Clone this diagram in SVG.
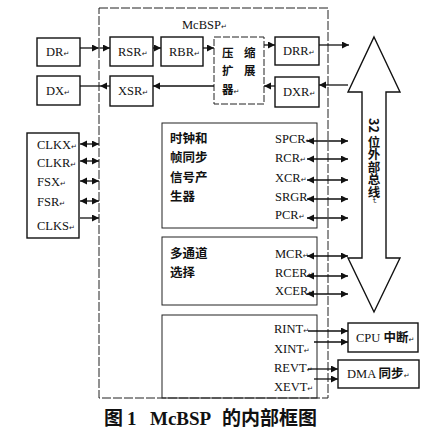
<svg xmlns="http://www.w3.org/2000/svg" width="446" height="434" viewBox="0 0 446 434">
<style>
.bg{fill:#fff}
.reg{fill:#fff;stroke:#111;stroke-width:1.4}
.blk{fill:none;stroke:#222;stroke-width:1}
.main{fill:none;stroke:#222;stroke-width:1;stroke-dasharray:9 2}
.cmp{fill:#fff;stroke:#222;stroke-width:1;stroke-dasharray:7 2}
.lbl{font-family:"Liberation Serif",serif;font-size:12.5px;fill:#111}
.cn{font-family:"Noto Sans CJK SC",sans-serif;font-size:12.5px;font-weight:bold;fill:#111}
.cs{font-size:11.5px}
.ret{font-family:"DejaVu Sans",sans-serif;font-size:7px;font-weight:normal}
.c{fill:none;stroke:#111;stroke-width:1.3}
.ah1{marker-end:url(#ah)}
.ah2{marker-start:url(#ah);marker-end:url(#ah)}
</style>
<defs>
<marker id="ah" markerUnits="userSpaceOnUse" markerWidth="8" markerHeight="8" refX="7" refY="3.5" orient="auto-start-reverse">
<path d="M0,0 L7,3.5 L0,7 Z" fill="#111"/>
</marker>
</defs>
<rect class="bg" width="446" height="434"/>

<g id="mcbsp">
<rect class="main" x="99" y="8" width="229" height="390"/>
<text class="lbl" x="182" y="29">McBSP<tspan class="ret">↵</tspan></text>
</g>

<g id="DR"><rect class="reg" x="37" y="38" width="43" height="28"/><text class="lbl" x="46" y="56">DR<tspan class="ret">↵</tspan></text></g>
<g id="DX"><rect class="reg" x="37" y="76" width="43" height="29"/><text class="lbl" x="46" y="95">DX<tspan class="ret">↵</tspan></text></g>
<g id="RSR"><rect class="reg" x="110" y="37" width="43" height="29"/><text class="lbl" x="118" y="56">RSR<tspan class="ret">↵</tspan></text></g>
<g id="RBR"><rect class="reg" x="161" y="37" width="42" height="29"/><text class="lbl" x="169" y="56">RBR<tspan class="ret">↵</tspan></text></g>
<g id="XSR"><rect class="reg" x="110" y="76" width="43" height="30"/><text class="lbl" x="118" y="95">XSR<tspan class="ret">↵</tspan></text></g>
<g id="compander">
<rect class="cmp" x="214" y="37" width="50" height="67"/>
<text class="cn cs" x="222" y="57">压</text><text class="cn cs" x="244" y="57">缩</text>
<text class="cn cs" x="222" y="75">扩</text><text class="cn cs" x="244" y="75">展</text>
<text class="cn cs" x="222" y="94">器<tspan class="ret">↵</tspan></text>
</g>
<g id="DRR"><rect class="reg" x="275" y="37" width="44" height="28"/><text class="lbl" x="283" y="55">DRR<tspan class="ret">↵</tspan></text></g>
<g id="DXR"><rect class="reg" x="275" y="77" width="44" height="30"/><text class="lbl" x="283" y="96">DXR<tspan class="ret">↵</tspan></text></g>

<g id="pins">
<rect class="reg" x="27" y="133" width="52" height="105"/>
<text class="lbl" x="37" y="149">CLKX<tspan class="ret">↵</tspan></text>
<text class="lbl" x="37" y="167">CLKR<tspan class="ret">↵</tspan></text>
<text class="lbl" x="37" y="186">FSX<tspan class="ret">↵</tspan></text>
<text class="lbl" x="37" y="206">FSR<tspan class="ret">↵</tspan></text>
<text class="lbl" x="37" y="230">CLKS<tspan class="ret">↵</tspan></text>
</g>

<g id="clockgen">
<rect class="blk" x="162" y="123" width="155" height="105"/>
<text class="cn" x="170" y="143">时钟和</text>
<text class="cn" x="170" y="162">帧同步</text>
<text class="cn" x="170" y="182">信号产</text>
<text class="cn" x="170" y="201">生器</text>
<text class="lbl" x="275" y="143">SPCR<tspan class="ret">↵</tspan></text>
<text class="lbl" x="275" y="162">RCR<tspan class="ret">↵</tspan></text>
<text class="lbl" x="275" y="182">XCR<tspan class="ret">↵</tspan></text>
<text class="lbl" x="275" y="201">SRGR<tspan class="ret">↵</tspan></text>
<text class="lbl" x="275" y="219">PCR<tspan class="ret">↵</tspan></text>
</g>

<g id="multichannel">
<rect class="blk" x="162" y="237" width="155" height="68"/>
<text class="cn" x="170" y="258">多通道</text>
<text class="cn" x="170" y="277">选择</text>
<text class="lbl" x="275" y="258">MCR<tspan class="ret">↵</tspan></text>
<text class="lbl" x="275" y="277">RCER<tspan class="ret">↵</tspan></text>
<text class="lbl" x="275" y="295">XCER<tspan class="ret">↵</tspan></text>
</g>

<g id="events">
<rect class="blk" x="162" y="315" width="155" height="83"/>
<text class="lbl" x="274" y="333">RINT<tspan class="ret">↵</tspan></text>
<text class="lbl" x="274" y="353">XINT<tspan class="ret">↵</tspan></text>
<text class="lbl" x="274" y="372">REVT<tspan class="ret">↵</tspan></text>
<text class="lbl" x="274" y="391">XEVT<tspan class="ret">↵</tspan></text>
</g>

<g id="cpu"><rect class="reg" x="348" y="323" width="70" height="29"/><text class="lbl" x="356" y="342">CPU <tspan class="cn" font-size="12px">中断</tspan><tspan class="ret">↵</tspan></text></g>
<g id="dma"><rect class="reg" x="338" y="360" width="81" height="28"/><text class="lbl" x="347" y="378">DMA <tspan class="cn" font-size="12px">同步</tspan><tspan class="ret">↵</tspan></text></g>

<g id="bus">
<polygon points="374,37 400,92 386,92 386,258 400,258 374,312 348,258 362,258 362,92 348,92" fill="#fff" stroke="#111" stroke-width="1.4"/>
<text class="cn" x="374" y="118" style="writing-mode:vertical-rl" font-size="12px">32 位外部总线<tspan class="ret">↵</tspan></text>
</g>

<g id="connectors">
<path class="c ah1" d="M80,48 H99"/>
<path class="c ah1" d="M99,48 H110"/>
<path class="c ah1" d="M153,48 H161"/>
<path class="c ah1" d="M203,48 H214"/>
<path class="c ah1" d="M264,45 H275"/>
<path class="c ah1" d="M319,45 H349"/>
<path class="c ah1" d="M348,85 H319"/>
<path class="c ah1" d="M275,86 H264"/>
<path class="c ah1" d="M214,86 H153"/>
<path class="c ah1" d="M110,86 H100"/>
<path class="c" d="M100,86 H80"/>
<path class="c ah2" d="M80,144 H99"/>
<path class="c ah2" d="M80,161 H99"/>
<path class="c ah2" d="M80,181 H99"/>
<path class="c ah2" d="M80,201 H99"/>
<path class="c ah1" d="M80,218 H99"/>
<path class="c ah2" d="M307,141 H348"/>
<path class="c ah2" d="M307,159 H348"/>
<path class="c ah2" d="M307,180 H348"/>
<path class="c ah2" d="M307,199 H348"/>
<path class="c ah2" d="M307,218 H348"/>
<path class="c ah2" d="M307,256 H348"/>
<path class="c ah2" d="M307,276 H348"/>
<path class="c ah2" d="M307,294 H348"/>
<path class="c ah1" d="M308,331 H348"/>
<path class="c ah1" d="M314,342 H348"/>
<path class="c ah1" d="M308,369 H338"/>
<path class="c ah1" d="M314,379 H338"/>
</g>

<text y="425" font-family="'Liberation Serif','Noto Sans CJK SC',serif" font-size="19" font-weight="bold" fill="#111"><tspan x="104">图</tspan><tspan x="127">1</tspan><tspan x="150">McBSP</tspan><tspan x="222">的内部框图</tspan></text>
</svg>
